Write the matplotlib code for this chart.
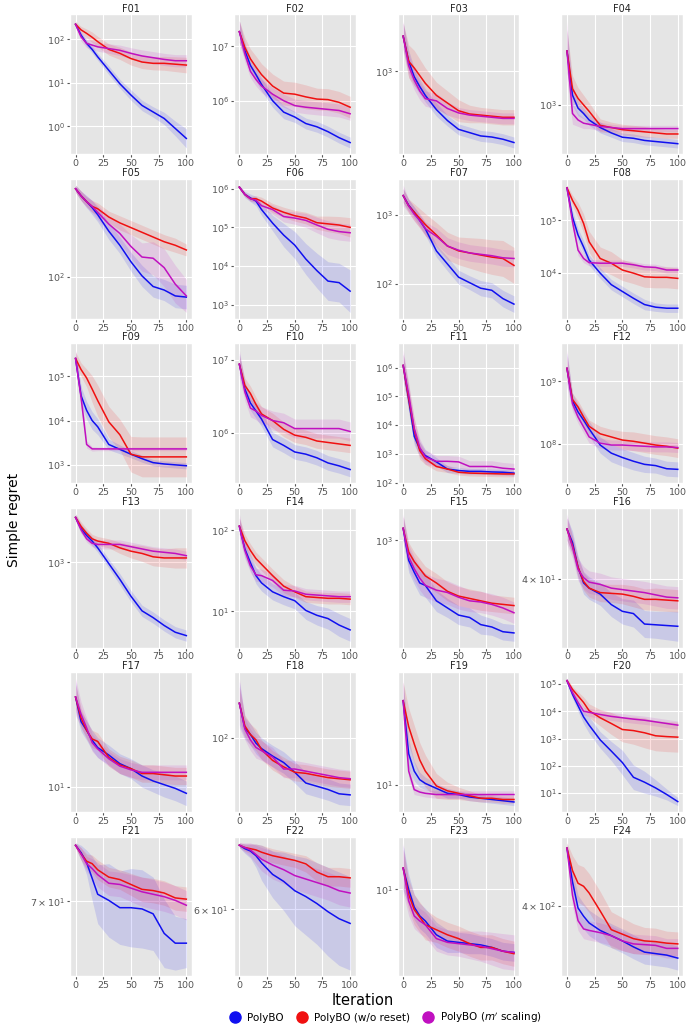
import math
import numpy as np
import matplotlib
matplotlib.use("Agg")
import matplotlib.pyplot as plt
from matplotlib.lines import Line2D
from matplotlib.ticker import NullLocator

ITERS = [0, 5, 10, 15, 20, 30, 40, 50, 60, 70, 80, 90, 100]

FUNCS = ["F%02d" % i for i in range(1, 25)]

# log10 of simple regret, one row per function
POLYBO_LOG = [
    [2.35, 2.10, 1.91, 1.77, 1.60, 1.29, 0.98, 0.72, 0.48, 0.33, 0.18, -0.05, -0.28],
    [7.27, 6.92, 6.65, 6.48, 6.30, 6.00, 5.79, 5.70, 5.58, 5.52, 5.43, 5.32, 5.23],
    [3.32, 3.09, 2.95, 2.86, 2.78, 2.65, 2.55, 2.47, 2.44, 2.41, 2.40, 2.38, 2.35],
    [3.50, 3.09, 2.97, 2.92, 2.86, 2.79, 2.74, 2.70, 2.69, 2.67, 2.66, 2.65, 2.64],
    [2.75, 2.69, 2.64, 2.59, 2.53, 2.39, 2.27, 2.13, 2.01, 1.92, 1.89, 1.84, 1.83],
    [6.04, 5.85, 5.76, 5.68, 5.46, 5.11, 4.80, 4.54, 4.18, 3.88, 3.61, 3.57, 3.35],
    [3.28, 3.14, 3.04, 2.92, 2.80, 2.48, 2.29, 2.10, 2.02, 1.94, 1.91, 1.79, 1.71],
    [5.62, 5.06, 4.72, 4.49, 4.24, 3.99, 3.77, 3.64, 3.51, 3.39, 3.34, 3.32, 3.32],
    [5.40, 4.56, 4.23, 4.00, 3.86, 3.46, 3.35, 3.24, 3.14, 3.05, 3.02, 3.00, 2.98],
    [6.94, 6.60, 6.41, 6.30, 6.19, 5.91, 5.83, 5.74, 5.71, 5.66, 5.59, 5.55, 5.50],
    [6.08, 4.89, 3.61, 3.17, 2.94, 2.72, 2.47, 2.42, 2.39, 2.39, 2.37, 2.36, 2.33],
    [9.21, 8.69, 8.51, 8.38, 8.24, 7.98, 7.85, 7.78, 7.72, 7.67, 7.65, 7.60, 7.59],
    [3.40, 3.30, 3.24, 3.19, 3.13, 2.99, 2.85, 2.70, 2.57, 2.51, 2.44, 2.38, 2.35],
    [2.05, 1.77, 1.60, 1.44, 1.35, 1.24, 1.18, 1.13, 1.01, 0.95, 0.91, 0.83, 0.77],
    [3.10, 2.83, 2.73, 2.64, 2.62, 2.49, 2.43, 2.37, 2.35, 2.29, 2.27, 2.23, 2.22],
    [1.669, 1.651, 1.618, 1.597, 1.590, 1.582, 1.568, 1.559, 1.556, 1.542, 1.541, 1.540, 1.539],
    [1.73, 1.53, 1.46, 1.38, 1.32, 1.26, 1.19, 1.15, 1.09, 1.05, 1.02, 0.99, 0.95],
    [2.32, 2.09, 2.03, 1.95, 1.90, 1.83, 1.77, 1.68, 1.58, 1.55, 1.52, 1.48, 1.47],
    [1.68, 1.25, 1.11, 1.04, 1.01, 0.97, 0.93, 0.92, 0.90, 0.89, 0.88, 0.87, 0.86],
    [5.12, 4.62, 4.20, 3.79, 3.49, 2.95, 2.54, 2.12, 1.58, 1.40, 1.19, 0.95, 0.69],
    [1.891, 1.885, 1.877, 1.864, 1.851, 1.846, 1.840, 1.840, 1.839, 1.835, 1.819, 1.811, 1.811],
    [1.833, 1.830, 1.828, 1.824, 1.818, 1.808, 1.802, 1.794, 1.789, 1.783, 1.776, 1.770, 1.766],
    [1.17, 1.00, 0.86, 0.79, 0.75, 0.64, 0.59, 0.58, 0.57, 0.56, 0.54, 0.51, 0.50],
    [2.679, 2.634, 2.599, 2.588, 2.579, 2.569, 2.562, 2.555, 2.547, 2.540, 2.538, 2.536, 2.532],
]

NORESET_LOG = [
    [2.35, 2.22, 2.14, 2.05, 1.95, 1.77, 1.68, 1.56, 1.48, 1.45, 1.45, 1.43, 1.41],
    [7.27, 6.98, 6.77, 6.62, 6.48, 6.27, 6.14, 6.12, 6.07, 6.03, 6.02, 5.97, 5.88],
    [3.32, 3.09, 3.03, 2.96, 2.89, 2.78, 2.71, 2.64, 2.61, 2.60, 2.59, 2.58, 2.58],
    [3.50, 3.15, 3.06, 3.00, 2.94, 2.81, 2.79, 2.77, 2.76, 2.75, 2.74, 2.73, 2.73],
    [2.75, 2.69, 2.64, 2.60, 2.58, 2.51, 2.46, 2.42, 2.38, 2.34, 2.30, 2.27, 2.23],
    [6.04, 5.85, 5.74, 5.74, 5.68, 5.50, 5.39, 5.30, 5.24, 5.12, 5.09, 5.06, 5.00],
    [3.28, 3.13, 3.04, 2.95, 2.86, 2.71, 2.55, 2.48, 2.45, 2.42, 2.39, 2.37, 2.27],
    [5.62, 5.38, 5.19, 4.94, 4.59, 4.27, 4.18, 4.05, 3.99, 3.92, 3.91, 3.91, 3.89],
    [5.40, 5.15, 4.96, 4.71, 4.45, 3.97, 3.68, 3.24, 3.18, 3.18, 3.18, 3.18, 3.18],
    [6.94, 6.65, 6.54, 6.39, 6.26, 6.17, 6.05, 5.97, 5.94, 5.89, 5.87, 5.85, 5.83],
    [6.08, 4.94, 3.83, 3.11, 2.83, 2.56, 2.47, 2.36, 2.33, 2.32, 2.31, 2.30, 2.30],
    [9.21, 8.71, 8.59, 8.43, 8.28, 8.16, 8.11, 8.06, 8.04, 8.01, 7.98, 7.96, 7.93],
    [3.40, 3.32, 3.26, 3.21, 3.19, 3.17, 3.13, 3.10, 3.08, 3.05, 3.04, 3.04, 3.04],
    [2.05, 1.87, 1.75, 1.65, 1.58, 1.44, 1.31, 1.24, 1.18, 1.17, 1.16, 1.16, 1.15],
    [3.10, 2.90, 2.82, 2.76, 2.70, 2.64, 2.57, 2.53, 2.51, 2.49, 2.47, 2.46, 2.45],
    [1.669, 1.647, 1.618, 1.599, 1.590, 1.584, 1.583, 1.582, 1.579, 1.575, 1.575, 1.574, 1.573],
    [1.73, 1.56, 1.46, 1.39, 1.37, 1.24, 1.18, 1.15, 1.11, 1.11, 1.10, 1.09, 1.09],
    [2.32, 2.11, 2.03, 1.98, 1.89, 1.79, 1.73, 1.68, 1.67, 1.65, 1.63, 1.62, 1.61],
    [1.68, 1.47, 1.33, 1.20, 1.11, 0.99, 0.95, 0.93, 0.91, 0.89, 0.89, 0.88, 0.88],
    [5.12, 4.80, 4.56, 4.32, 4.02, 3.76, 3.55, 3.33, 3.29, 3.21, 3.10, 3.07, 3.05],
    [1.891, 1.884, 1.878, 1.876, 1.871, 1.865, 1.863, 1.859, 1.855, 1.854, 1.852, 1.848, 1.847],
    [1.833, 1.831, 1.830, 1.829, 1.827, 1.824, 1.822, 1.820, 1.817, 1.810, 1.806, 1.806, 1.805],
    [1.17, 0.96, 0.84, 0.78, 0.72, 0.68, 0.64, 0.61, 0.57, 0.54, 0.54, 0.51, 0.49],
    [2.679, 2.649, 2.632, 2.628, 2.619, 2.595, 2.570, 2.564, 2.558, 2.555, 2.554, 2.552, 2.551],
]

MSCALE_LOG = [
    [2.35, 2.06, 1.91, 1.87, 1.83, 1.79, 1.75, 1.68, 1.62, 1.58, 1.54, 1.51, 1.51],
    [7.27, 6.86, 6.54, 6.39, 6.27, 6.12, 6.00, 5.91, 5.88, 5.86, 5.84, 5.82, 5.76],
    [3.32, 3.05, 2.92, 2.82, 2.75, 2.73, 2.66, 2.62, 2.60, 2.59, 2.58, 2.57, 2.57],
    [3.50, 2.92, 2.86, 2.83, 2.82, 2.80, 2.79, 2.78, 2.78, 2.78, 2.78, 2.78, 2.78],
    [2.75, 2.69, 2.64, 2.60, 2.55, 2.45, 2.37, 2.26, 2.17, 2.16, 2.08, 1.94, 1.84],
    [6.04, 5.85, 5.74, 5.70, 5.56, 5.46, 5.28, 5.24, 5.18, 5.06, 4.95, 4.89, 4.86],
    [3.28, 3.13, 3.01, 2.92, 2.80, 2.69, 2.55, 2.49, 2.45, 2.43, 2.41, 2.38, 2.37],
    [5.62, 4.97, 4.43, 4.27, 4.19, 4.18, 4.18, 4.18, 4.15, 4.11, 4.10, 4.05, 4.05],
    [5.40, 4.52, 3.46, 3.36, 3.36, 3.36, 3.36, 3.36, 3.36, 3.36, 3.36, 3.36, 3.36],
    [6.94, 6.56, 6.34, 6.30, 6.24, 6.17, 6.14, 6.06, 6.06, 6.06, 6.06, 6.06, 6.02],
    [6.08, 5.06, 3.89, 3.22, 2.89, 2.74, 2.74, 2.72, 2.56, 2.56, 2.56, 2.50, 2.47],
    [9.21, 8.64, 8.43, 8.27, 8.11, 8.01, 7.98, 7.98, 7.97, 7.96, 7.95, 7.95, 7.94],
    [3.40, 3.29, 3.21, 3.17, 3.16, 3.16, 3.16, 3.14, 3.12, 3.10, 3.09, 3.08, 3.06],
    [2.05, 1.75, 1.56, 1.45, 1.44, 1.38, 1.26, 1.25, 1.21, 1.20, 1.19, 1.18, 1.18],
    [3.10, 2.86, 2.76, 2.68, 2.62, 2.58, 2.56, 2.52, 2.49, 2.48, 2.46, 2.43, 2.39],
    [1.669, 1.645, 1.615, 1.604, 1.598, 1.595, 1.590, 1.588, 1.586, 1.584, 1.581, 1.578, 1.577],
    [1.73, 1.59, 1.48, 1.36, 1.31, 1.23, 1.17, 1.14, 1.12, 1.12, 1.12, 1.12, 1.12],
    [2.32, 2.08, 1.98, 1.91, 1.88, 1.82, 1.71, 1.71, 1.69, 1.67, 1.65, 1.63, 1.62],
    [1.68, 1.11, 0.96, 0.94, 0.93, 0.92, 0.92, 0.92, 0.92, 0.92, 0.92, 0.92, 0.92],
    [5.12, 4.68, 4.32, 4.00, 3.96, 3.88, 3.81, 3.76, 3.71, 3.67, 3.61, 3.55, 3.49],
    [1.891, 1.884, 1.876, 1.872, 1.867, 1.860, 1.859, 1.856, 1.853, 1.851, 1.849, 1.846, 1.842],
    [1.833, 1.831, 1.829, 1.825, 1.821, 1.816, 1.812, 1.807, 1.804, 1.801, 1.798, 1.794, 1.792],
    [1.17, 0.91, 0.79, 0.75, 0.72, 0.61, 0.58, 0.57, 0.56, 0.55, 0.53, 0.51, 0.50],
    [2.679, 2.616, 2.582, 2.571, 2.569, 2.566, 2.562, 2.555, 2.551, 2.550, 2.549, 2.545, 2.545],
]

# half width of the shaded band, in decades
BAND_POLYBO = [
    [0.05, 0.06, 0.07, 0.08, 0.08, 0.1, 0.1, 0.12, 0.12, 0.12, 0.14, 0.17, 0.22],
    [0.2, 0.15, 0.13, 0.12, 0.12, 0.12, 0.12, 0.1, 0.1, 0.1, 0.1, 0.1, 0.1],
    [0.12, 0.1, 0.08, 0.07, 0.06, 0.06, 0.05, 0.05, 0.05, 0.05, 0.05, 0.05, 0.05],
    [0.2, 0.1, 0.07, 0.05, 0.05, 0.05, 0.04, 0.04, 0.04, 0.04, 0.04, 0.04, 0.04],
    [0.03, 0.04, 0.05, 0.06, 0.06, 0.07, 0.07, 0.08, 0.09, 0.09, 0.09, 0.1, 0.1],
    [0.05, 0.08, 0.1, 0.12, 0.15, 0.2, 0.3, 0.35, 0.4, 0.45, 0.5, 0.5, 0.55],
    [0.1, 0.08, 0.08, 0.08, 0.09, 0.09, 0.1, 0.1, 0.1, 0.11, 0.11, 0.12, 0.12],
    [0.05, 0.12, 0.12, 0.12, 0.1, 0.1, 0.1, 0.1, 0.1, 0.1, 0.08, 0.08, 0.08],
    [0.15, 0.2, 0.2, 0.2, 0.18, 0.12, 0.1, 0.08, 0.08, 0.07, 0.07, 0.07, 0.07],
    [0.15, 0.1, 0.1, 0.1, 0.1, 0.1, 0.1, 0.1, 0.1, 0.1, 0.1, 0.1, 0.1],
    [0.4, 0.4, 0.3, 0.25, 0.2, 0.15, 0.12, 0.1, 0.1, 0.1, 0.1, 0.1, 0.1],
    [0.25, 0.12, 0.12, 0.12, 0.12, 0.13, 0.14, 0.14, 0.14, 0.13, 0.12, 0.12, 0.12],
    [0.03, 0.04, 0.04, 0.04, 0.04, 0.04, 0.05, 0.05, 0.05, 0.05, 0.05, 0.05, 0.05],
    [0.1, 0.1, 0.1, 0.1, 0.1, 0.1, 0.1, 0.1, 0.11, 0.12, 0.13, 0.14, 0.14],
    [0.1, 0.1, 0.1, 0.1, 0.1, 0.09, 0.08, 0.08, 0.08, 0.08, 0.07, 0.07, 0.07],
    [0.015, 0.015, 0.015, 0.015, 0.015, 0.015, 0.016, 0.017, 0.018, 0.018, 0.018, 0.019, 0.02],
    [0.12, 0.08, 0.08, 0.08, 0.08, 0.08, 0.08, 0.08, 0.09, 0.09, 0.1, 0.1, 0.1],
    [0.2, 0.1, 0.1, 0.1, 0.1, 0.1, 0.1, 0.1, 0.1, 0.1, 0.1, 0.1, 0.1],
    [0.15, 0.12, 0.08, 0.06, 0.05, 0.04, 0.04, 0.03, 0.03, 0.03, 0.03, 0.03, 0.03],
    [0.08, 0.15, 0.2, 0.25, 0.3, 0.3, 0.35, 0.45, 0.45, 0.4, 0.3, 0.2, 0.15],
    [0.002, 0.006, 0.01, 0.018, 0.024, 0.03, 0.03, 0.032, 0.032, 0.03, 0.028, 0.022, 0.02],
    [0.002, 0.004, 0.006, 0.01, 0.015, 0.02, 0.025, 0.03, 0.033, 0.035, 0.038, 0.04, 0.04],
    [0.18, 0.12, 0.1, 0.1, 0.1, 0.1, 0.09, 0.08, 0.08, 0.07, 0.07, 0.07, 0.07],
    [0.007, 0.015, 0.017, 0.017, 0.017, 0.017, 0.016, 0.016, 0.016, 0.016, 0.016, 0.016, 0.016],
]

BAND_NORESET = [
    [0.06, 0.08, 0.1, 0.12, 0.12, 0.13, 0.14, 0.15, 0.15, 0.15, 0.16, 0.17, 0.18],
    [0.2, 0.18, 0.18, 0.2, 0.2, 0.22, 0.22, 0.22, 0.22, 0.2, 0.2, 0.2, 0.2],
    [0.12, 0.15, 0.16, 0.15, 0.14, 0.12, 0.11, 0.1, 0.08, 0.07, 0.07, 0.07, 0.07],
    [0.2, 0.12, 0.1, 0.09, 0.08, 0.06, 0.05, 0.05, 0.05, 0.05, 0.04, 0.04, 0.04],
    [0.03, 0.04, 0.04, 0.05, 0.05, 0.05, 0.06, 0.06, 0.06, 0.06, 0.06, 0.06, 0.05],
    [0.03, 0.05, 0.06, 0.08, 0.1, 0.12, 0.13, 0.14, 0.15, 0.17, 0.2, 0.22, 0.25],
    [0.1, 0.1, 0.12, 0.14, 0.16, 0.18, 0.2, 0.2, 0.22, 0.24, 0.25, 0.26, 0.26],
    [0.05, 0.1, 0.15, 0.18, 0.2, 0.22, 0.22, 0.2, 0.2, 0.2, 0.2, 0.2, 0.2],
    [0.15, 0.15, 0.2, 0.3, 0.35, 0.35, 0.35, 0.4, 0.45, 0.45, 0.45, 0.45, 0.45],
    [0.12, 0.1, 0.1, 0.1, 0.1, 0.1, 0.1, 0.1, 0.1, 0.1, 0.1, 0.1, 0.1],
    [0.4, 0.45, 0.4, 0.3, 0.2, 0.15, 0.12, 0.1, 0.1, 0.1, 0.1, 0.1, 0.1],
    [0.2, 0.1, 0.1, 0.1, 0.1, 0.12, 0.12, 0.14, 0.15, 0.15, 0.15, 0.15, 0.15],
    [0.03, 0.04, 0.04, 0.04, 0.04, 0.04, 0.05, 0.06, 0.07, 0.08, 0.08, 0.09, 0.09],
    [0.1, 0.08, 0.08, 0.08, 0.08, 0.08, 0.08, 0.07, 0.07, 0.07, 0.07, 0.07, 0.07],
    [0.1, 0.08, 0.08, 0.08, 0.08, 0.08, 0.08, 0.08, 0.08, 0.08, 0.07, 0.07, 0.07],
    [0.015, 0.012, 0.012, 0.012, 0.012, 0.012, 0.012, 0.013, 0.014, 0.014, 0.015, 0.015, 0.015],
    [0.1, 0.08, 0.07, 0.07, 0.07, 0.07, 0.07, 0.07, 0.07, 0.07, 0.07, 0.07, 0.07],
    [0.15, 0.1, 0.1, 0.1, 0.09, 0.09, 0.09, 0.08, 0.08, 0.08, 0.08, 0.08, 0.08],
    [0.15, 0.15, 0.15, 0.14, 0.13, 0.1, 0.07, 0.05, 0.04, 0.03, 0.03, 0.03, 0.03],
    [0.08, 0.1, 0.15, 0.2, 0.25, 0.3, 0.4, 0.45, 0.5, 0.55, 0.55, 0.55, 0.55],
    [0.002, 0.005, 0.006, 0.007, 0.008, 0.008, 0.008, 0.009, 0.01, 0.01, 0.01, 0.01, 0.01],
    [0.002, 0.003, 0.004, 0.005, 0.006, 0.006, 0.006, 0.006, 0.007, 0.008, 0.008, 0.008, 0.008],
    [0.15, 0.12, 0.12, 0.12, 0.12, 0.1, 0.1, 0.1, 0.1, 0.1, 0.1, 0.1, 0.1],
    [0.007, 0.02, 0.025, 0.026, 0.026, 0.026, 0.024, 0.022, 0.02, 0.018, 0.018, 0.016, 0.016],
]

BAND_MSCALE = [
    [0.08, 0.1, 0.1, 0.1, 0.1, 0.11, 0.12, 0.13, 0.14, 0.14, 0.14, 0.14, 0.14],
    [0.2, 0.15, 0.12, 0.12, 0.12, 0.12, 0.12, 0.12, 0.12, 0.12, 0.12, 0.12, 0.12],
    [0.14, 0.1, 0.09, 0.08, 0.07, 0.07, 0.06, 0.05, 0.05, 0.05, 0.05, 0.05, 0.05],
    [0.28, 0.1, 0.06, 0.05, 0.04, 0.04, 0.03, 0.03, 0.03, 0.03, 0.03, 0.03, 0.03],
    [0.03, 0.04, 0.05, 0.05, 0.06, 0.07, 0.08, 0.1, 0.12, 0.14, 0.16, 0.16, 0.14],
    [0.03, 0.05, 0.06, 0.08, 0.1, 0.12, 0.14, 0.16, 0.18, 0.2, 0.22, 0.22, 0.22],
    [0.15, 0.1, 0.1, 0.1, 0.1, 0.12, 0.12, 0.12, 0.12, 0.12, 0.12, 0.12, 0.12],
    [0.05, 0.12, 0.1, 0.08, 0.06, 0.06, 0.06, 0.06, 0.06, 0.06, 0.06, 0.06, 0.06],
    [0.2, 0.25, 0.08, 0.05, 0.04, 0.04, 0.04, 0.04, 0.04, 0.04, 0.04, 0.04, 0.04],
    [0.2, 0.12, 0.12, 0.12, 0.12, 0.13, 0.13, 0.13, 0.13, 0.13, 0.13, 0.13, 0.13],
    [0.55, 0.4, 0.35, 0.3, 0.25, 0.2, 0.2, 0.2, 0.2, 0.2, 0.2, 0.2, 0.2],
    [0.3, 0.12, 0.1, 0.1, 0.1, 0.08, 0.08, 0.08, 0.08, 0.08, 0.08, 0.08, 0.08],
    [0.03, 0.03, 0.03, 0.03, 0.04, 0.04, 0.04, 0.04, 0.04, 0.04, 0.04, 0.04, 0.04],
    [0.15, 0.1, 0.08, 0.08, 0.08, 0.08, 0.07, 0.07, 0.07, 0.07, 0.07, 0.07, 0.07],
    [0.12, 0.1, 0.1, 0.1, 0.1, 0.1, 0.1, 0.1, 0.09, 0.09, 0.09, 0.09, 0.09],
    [0.02, 0.015, 0.015, 0.015, 0.015, 0.015, 0.015, 0.015, 0.015, 0.015, 0.015, 0.015, 0.015],
    [0.15, 0.1, 0.08, 0.07, 0.07, 0.06, 0.06, 0.06, 0.06, 0.06, 0.06, 0.06, 0.06],
    [0.23, 0.1, 0.1, 0.1, 0.09, 0.09, 0.08, 0.08, 0.08, 0.08, 0.08, 0.08, 0.08],
    [0.18, 0.06, 0.04, 0.03, 0.03, 0.03, 0.03, 0.03, 0.03, 0.03, 0.03, 0.03, 0.03],
    [0.08, 0.15, 0.15, 0.15, 0.15, 0.15, 0.15, 0.15, 0.15, 0.15, 0.15, 0.15, 0.15],
    [0.002, 0.005, 0.006, 0.008, 0.01, 0.01, 0.01, 0.011, 0.012, 0.012, 0.012, 0.012, 0.012],
    [0.002, 0.004, 0.006, 0.008, 0.01, 0.012, 0.012, 0.012, 0.012, 0.012, 0.012, 0.012, 0.012],
    [0.2, 0.12, 0.1, 0.1, 0.1, 0.1, 0.1, 0.1, 0.11, 0.12, 0.13, 0.14, 0.14],
    [0.007, 0.015, 0.013, 0.013, 0.013, 0.013, 0.013, 0.013, 0.013, 0.013, 0.013, 0.013, 0.013],
]

SERIES = [
    ("PolyBO", "#1010f0", POLYBO_LOG, BAND_POLYBO),
    ("PolyBO (w/o reset)", "#f01010", NORESET_LOG, BAND_NORESET),
    ("PolyBO ($m'$ scaling)", "#c010c0", MSCALE_LOG, BAND_MSCALE),
]


def set_log_ticks(ax):
    # one label per decade, or a single k x 10^n label on very short axes
    lo, hi = ax.get_ylim()
    e0 = math.floor(math.log10(lo)) - 1
    e1 = math.ceil(math.log10(hi)) + 1
    ticks, labels = [], []
    for e in range(e0, e1 + 1):
        v = 10.0 ** e
        if lo <= v <= hi:
            ticks.append(v)
            labels.append(r"$\mathdefault{10^{%d}}$" % e)
    if not ticks:
        for e in range(e0, e1 + 1):
            for k in range(2, 10):
                v = k * 10.0 ** e
                if lo <= v <= hi:
                    ticks.append(v)
                    labels.append(r"$\mathdefault{%d\times10^{%d}}$" % (k, e))
    ax.set_yticks(ticks, labels)
    ax.yaxis.set_minor_locator(NullLocator())
    ax.set_ylim(lo, hi)


plt.style.use("ggplot")
fig, axes = plt.subplots(6, 4, figsize=(6.93, 10.30), dpi=100)
fig.subplots_adjust(left=0.101, right=0.986, top=0.986, bottom=0.052,
                    wspace=0.344, hspace=0.175)

x = np.array(ITERS)
for i, ax in enumerate(axes.flat):
    for name, color, logs, bands in SERIES:
        m = np.array(logs[i])
        b = np.array(bands[i])
        ax.fill_between(x, 10 ** (m - b), 10 ** (m + b), color=color,
                        alpha=0.13, linewidth=0)
        ax.plot(x, 10 ** m, color=color, lw=1.1)
    ax.set_yscale("log")
    ax.set_title(FUNCS[i], fontsize=7, color="#222222", pad=2)
    ax.set_xticks([0, 25, 50, 75, 100])
    ax.tick_params(labelsize=6.8, colors="#555555", length=2, pad=1.5)
    set_log_ticks(ax)

fig.text(0.02, 0.495, "Simple regret", rotation=90, ha="center", va="center",
         fontsize=10)
fig.text(0.524, 0.029, "Iteration", ha="center", va="center", fontsize=10.5)

handles = [Line2D([], [], marker="o", linestyle="", color=c, markersize=8)
           for _, c, _, _ in SERIES]
fig.legend(handles, [s[0] for s in SERIES], loc="center", ncol=3,
           bbox_to_anchor=(0.553, 0.012), frameon=False, fontsize=7.5,
           handletextpad=0.1, columnspacing=0.8)

fig.savefig("out.png", dpi=100)
